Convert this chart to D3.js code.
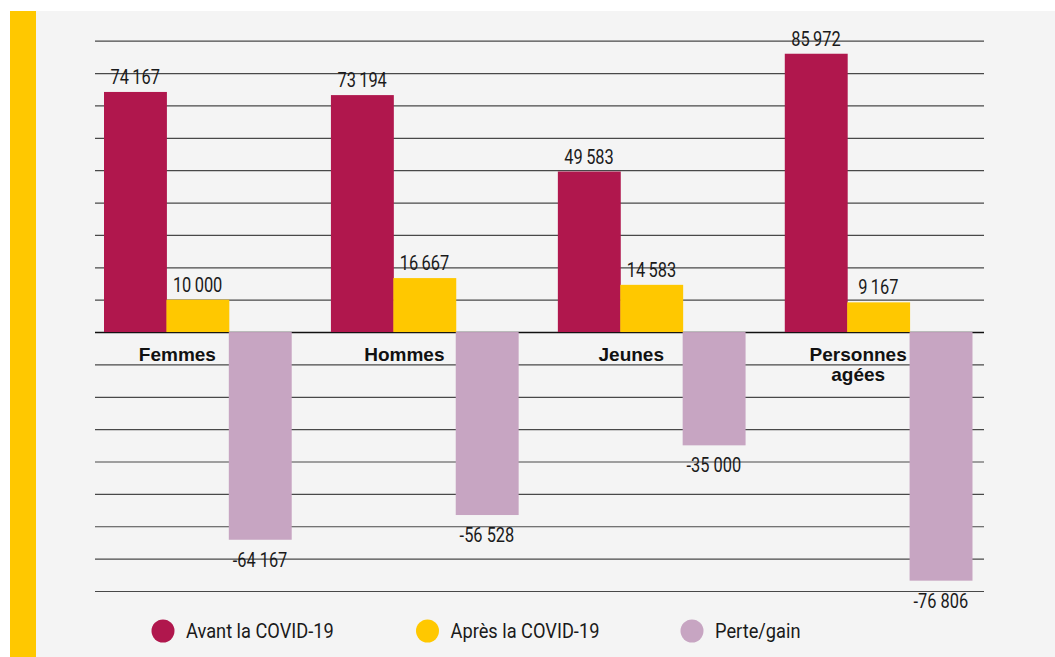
<!DOCTYPE html>
<html lang="fr">
<head>
<meta charset="utf-8">
<title>Avant et après la COVID-19</title>
<script src="https://cdn.jsdelivr.net/npm/d3@7"></script>
<style>
  html, body { margin: 0; padding: 0; background: #ffffff; }
  svg { display: block; }
  .narrow { font-family: Roboto, "DejaVu Sans Condensed", sans-serif; }
  .bold { font-family: "Liberation Sans", Arial, sans-serif; font-weight: bold; }
</style>
</head>
<body>
<svg id="chart" width="1055" height="657"></svg>
<script>
// Groupes de population
const categories = ["Femmes", "Hommes", "Jeunes", "Personnes agées"];
// Séries
const seriesNames = ["Avant la COVID-19", "Après la COVID-19", "Perte/gain"];
const avant = [74167, 73194, 49583, 85972];
const apres = [10000, 16667, 14583, 9167];
const perte = [-64167, -56528, -35000, -76806];
// Graduations de la grille
const gridTicks = d3.range(-80000, 90001, 10000);

const colors = ["#b0174d", "#ffc800", "#c7a5c2"];
const values = [avant, apres, perte];

const W = 1055, H = 657;
const svg = d3.select("#chart");

// Fond et bandeau latéral
svg.append("rect").attr("x", 10).attr("y", 11).attr("width", W - 10).attr("height", H - 11).attr("fill", "#f4f4f4");
svg.append("rect").attr("x", 10).attr("y", 11).attr("width", 26).attr("height", H - 11).attr("fill", "#ffc800");

const y = d3.scaleLinear().domain([-80000, 90000]).range([591, 40.7]);
const x0 = d3.scaleBand().domain(categories).range([104, 972]).paddingInner(0.175).paddingOuter(0);
const x1 = d3.scaleBand().domain(seriesNames).range([0, x0.bandwidth()]);

// Grille horizontale
const gridLeft = 95, gridRight = 984;
const grid = svg.append("g")
  .attr("transform", `translate(${gridLeft},0)`)
  .call(d3.axisLeft(y).tickValues(gridTicks).tickSize(-(gridRight - gridLeft)).tickFormat(""));
grid.select(".domain").remove();
grid.selectAll(".tick line")
  .attr("stroke", d => d === 0 ? "#111" : "#484848")
  .attr("stroke-width", d => d === 0 ? 1.6 : 1.2);

const rows = categories.map((c, i) => ({
  cat: c,
  vals: seriesNames.map((s, j) => ({ series: s, value: values[j][i], color: colors[j] }))
}));

const groups = svg.append("g").selectAll("g")
  .data(rows).join("g")
  .attr("transform", d => `translate(${x0(d.cat)},0)`);

groups.selectAll("rect")
  .data(d => d.vals).join("rect")
  .attr("x", d => x1(d.series))
  .attr("width", x1.bandwidth() + 0.5)
  .attr("y", d => y(Math.max(0, d.value)))
  .attr("height", d => Math.abs(y(d.value) - y(0)))
  .attr("fill", d => d.color);

// Étiquettes de valeur (police resserrée horizontalement)
const fmt = v => {
  const s = d3.format(",")(Math.abs(v));
  return v < 0 ? "-" + s.replace(/,/g, " ") : s.replace(/,/g, "\u2009");
};
groups.selectAll("text.val")
  .data(d => d.vals).join("text")
  .attr("class", "val narrow")
  .attr("transform", d => {
    const cx = x1(d.series) + x1.bandwidth() / 2;
    const ty = d.value >= 0 ? y(d.value) - 8 : y(d.value) + 27;
    return `translate(${cx},${ty}) scale(0.8,1)`;
  })
  .attr("text-anchor", "middle")
  .attr("font-size", 20.5)
  .attr("fill", "#1a1a1a")
  .text(d => fmt(d.value));

// Libellés des groupes
const labelX = x1(seriesNames[1]) + 11;
groups.append("text")
  .attr("class", "bold")
  .attr("x", labelX)
  .attr("y", 360.5)
  .attr("text-anchor", "middle")
  .attr("font-size", 19)
  .attr("fill", "#111")
  .selectAll("tspan")
  .data(d => d.cat.split(" ")).join("tspan")
  .attr("x", labelX)
  .attr("dy", (d, i) => i === 0 ? 0 : 20)
  .text(d => d);

// Légende
const legend = svg.append("g").selectAll("g")
  .data(seriesNames).join("g")
  .attr("transform", (d, i) => `translate(${163 + i * 264.5},631)`);
legend.append("circle").attr("r", 11.5).attr("fill", (d, i) => colors[i]);
legend.append("text")
  .attr("class", "narrow")
  .attr("transform", "translate(23,7) scale(0.89,1)")
  .attr("font-size", 20.5)
  .attr("fill", "#1a1a1a")
  .text(d => d);
</script>
</body>
</html>
